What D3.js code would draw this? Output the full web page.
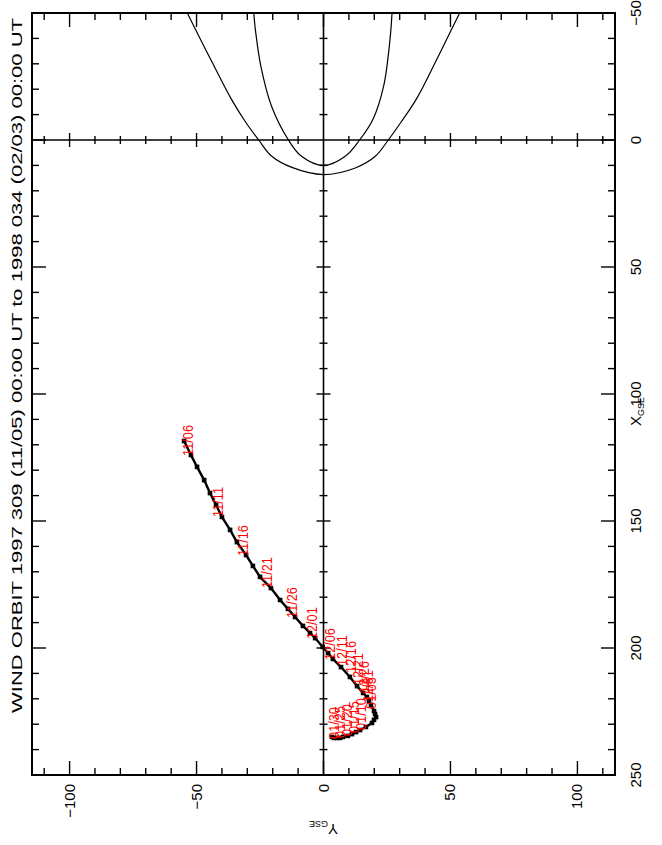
<!DOCTYPE html>
<html><head><meta charset="utf-8">
<script src="https://cdn.jsdelivr.net/npm/d3@7"></script>
<style>
html,body{margin:0;padding:0;background:#fff;}
svg{display:block;font-family:"Liberation Sans",Arial,sans-serif;}
</style></head>
<body>
<svg id="c" width="662" height="845"></svg>
<script>
// ---------- DATA ----------
const titleText = "WIND ORBIT 1997 309 (11/05) 00:00 UT to 1998 034 (02/03) 00:00 UT";
// GSE Y (horizontal) tick values and labels
const yTickVals = [-110,-100,-90,-80,-70,-60,-50,-40,-30,-20,-10,0,10,20,30,40,50,60,70,80,90,100,110];
const yLabelVals = [-100,-50,0,50,100];
// GSE X (vertical) tick values and labels
const xTickVals = [-40,-30,-20,-10,0,10,20,30,40,50,60,70,80,90,100,110,120,130,140,150,160,170,180,190,200,210,220,230,240];
const xLabelVals = [-50,0,50,100,150,200,250];

// Spacecraft trajectory: GSE X and GSE Y in Re
const trajX = [118.5,124.0,128.7,133.9,139.0,143.7,148.4,153.5,158.3,163.4,167.7,172.0,176.4,181.1,184.6,187.8,191.3,194.1,196.1,199.6,202.0,204.3,207.5,211.4,215.0,217.7,219.3,220.9,222.4,224.8,226.0,227.2,228.3,229.5,231.1,232.3,233.1,233.9,234.6,235.0,235.4,235.4,235.4,235.0];
const trajY = [-54.9,-52.2,-49.8,-47.0,-44.7,-42.3,-40.0,-36.8,-34.1,-30.5,-27.8,-25.0,-20.7,-17.1,-14.0,-11.2,-8.1,-5.3,-3.3,-0.3,1.8,3.7,6.9,10.4,13.2,15.6,17.1,17.9,18.7,19.9,20.3,20.7,19.9,19.1,16.7,14.4,12.8,11.2,9.6,7.7,6.5,5.3,4.1,3.3];

// Date labels every 5 days
const labelDates = ["11/06","11/11","11/16","11/21","11/26","12/01","12/06","12/11","12/16","12/21","12/26","12/31","01/05","01/10","01/15","01/20","01/25","01/30"];
const labelX = [124.0,148.0,163.4,176.0,187.8,196.1,204.3,206.7,209.4,214.2,217.3,220.9,223.6,231.9,233.1,234.3,235.0,235.4];
const labelY = [-52.2,-40.4,-30.5,-21.1,-11.2,-3.3,3.7,8.5,12.0,14.8,17.1,18.7,19.9,15.9,13.2,10.4,7.7,5.3];

// Bow shock (outer) and magnetopause (inner) boundaries
const bowX = [-50.3,-43.7,-30.5,-16.1,-6.8,0,6.3,10.9,13.6,11.0,6.3,0,-7.0,-16.0,-30.5,-43.7,-50.3];
const bowY = [-53.8,-50.5,-43.8,-36.3,-30.5,-25.5,-20.5,-12.2,0,12.5,20.5,25.5,30.5,36.5,44.0,50.5,53.8];
const mpX = [-50.3,-42.4,-29.2,-13.4,0,6.3,10.0,6.3,0,-8.2,-21.3,-39.7,-50.3];
const mpY = [-27.5,-26.7,-24.7,-20.5,-13.8,-8.8,0,8.7,14.2,19.5,23.7,26.2,27.0];

// ---------- DRAW ----------
const svg = d3.select("#c");
const L = 32, R = 615, T = 13, B = 775;
const sx = d3.scaleLinear().domain([-114.8, 114.8]).range([L, R]); // GSE Y -> screen x
const sy = d3.scaleLinear().domain([-50, 250]).range([T, B]);       // GSE X -> screen y

svg.append("rect").attr("width",662).attr("height",845).attr("fill","#fff");

svg.append("defs").append("clipPath").attr("id","clip")
  .append("rect").attr("x",L).attr("y",T).attr("width",R-L).attr("height",B-T);

const g = svg.append("g");
const isMajor = v => v % 50 === 0;

// central axes lines
g.append("line").attr("x1",L).attr("x2",R).attr("y1",sy(0)).attr("y2",sy(0)).attr("stroke","#000").attr("stroke-width",1.6);
g.append("line").attr("x1",sx(0)).attr("x2",sx(0)).attr("y1",T).attr("y2",B).attr("stroke","#000").attr("stroke-width",1.6);

// ticks on the horizontal (X=0) line, crossing
yTickVals.filter(v=>v!==0).forEach(v=>{
  const h = isMajor(v)?7:4;
  g.append("line").attr("x1",sx(v)).attr("x2",sx(v)).attr("y1",sy(0)-h).attr("y2",sy(0)+h).attr("stroke","#000").attr("stroke-width",1.4);
});
// ticks on the vertical (Y=0) line, crossing
xTickVals.filter(v=>v!==0).forEach(v=>{
  const h = isMajor(v)?7:4;
  g.append("line").attr("y1",sy(v)).attr("y2",sy(v)).attr("x1",sx(0)-h).attr("x2",sx(0)+h).attr("stroke","#000").attr("stroke-width",1.4);
});

// edge ticks
yTickVals.forEach(v=>{
  const h = isMajor(v)?14:7;
  g.append("line").attr("x1",sx(v)).attr("x2",sx(v)).attr("y1",T).attr("y2",T+h).attr("stroke","#000").attr("stroke-width",1.4);
  g.append("line").attr("x1",sx(v)).attr("x2",sx(v)).attr("y1",B).attr("y2",B-h).attr("stroke","#000").attr("stroke-width",1.4);
});
xTickVals.forEach(v=>{
  const h = isMajor(v)?14:7;
  g.append("line").attr("y1",sy(v)).attr("y2",sy(v)).attr("x1",L).attr("x2",L+h).attr("stroke","#000").attr("stroke-width",1.4);
  g.append("line").attr("y1",sy(v)).attr("y2",sy(v)).attr("x1",R).attr("x2",R-h).attr("stroke","#000").attr("stroke-width",1.4);
});

// box
g.append("rect").attr("x",L).attr("y",T).attr("width",R-L).attr("height",B-T)
  .attr("fill","none").attr("stroke","#000").attr("stroke-width",2);

// boundaries
const bline = d3.line().x(d=>sx(d[1])).y(d=>sy(d[0])).curve(d3.curveCatmullRom);
const clipG = svg.append("g").attr("clip-path","url(#clip)");
clipG.append("path").attr("d", bline(bowX.map((x,i)=>[x,bowY[i]]))).attr("fill","none").attr("stroke","#000").attr("stroke-width",1.2);
clipG.append("path").attr("d", bline(mpX.map((x,i)=>[x,mpY[i]]))).attr("fill","none").attr("stroke","#000").attr("stroke-width",1.2);

// trajectory
const traj = trajX.map((x,i)=>[x,trajY[i]]);
const tline = d3.line().x(d=>sx(d[1])).y(d=>sy(d[0]));
clipG.append("path").attr("d", tline(traj)).attr("fill","none").attr("stroke","#000").attr("stroke-width",2.4);
clipG.selectAll("rect.m").data(traj).enter().append("rect").attr("class","m")
  .attr("x",d=>sx(d[1])-2.3).attr("y",d=>sy(d[0])-2.3).attr("width",4.6).attr("height",4.6).attr("fill","#000");

// date labels
svg.selectAll("text.dl").data(labelDates).enter().append("text").attr("class","dl")
  .attr("transform",(d,i)=>`translate(${sx(labelY[i])+2},${sy(labelX[i])+1}) rotate(-90) scale(0.85,1)`)
  .attr("font-size",15).attr("fill","#ff0000").text(d=>d);

// bottom labels (GSE Y)
svg.selectAll("text.yl").data(yLabelVals).enter().append("text").attr("class","yl")
  .attr("transform",d=>`translate(${sx(d)+5},${B+9}) rotate(-90)`)
  .attr("text-anchor","end").attr("font-size",15).text(d=>d<0?"\u2212"+Math.abs(d):d);

// right labels (GSE X)
svg.selectAll("text.xl").data(xLabelVals).enter().append("text").attr("class","xl")
  .attr("transform",d=>`translate(${R+26},${sy(d)}) rotate(-90)`)
  .attr("text-anchor","middle").attr("font-size",15).text(d=>d<0?"\u2212"+Math.abs(d):d);

// axis titles
const xt = svg.append("text").attr("transform",`translate(${R+26},426) rotate(-90)`).attr("font-size",15);
xt.append("tspan").text("X");
xt.append("tspan").attr("font-size",9).attr("dy",3).text("GSE");
const yt = svg.append("text").attr("transform",`translate(338,824) rotate(180)`).attr("font-size",15);
yt.append("tspan").text("Y");
yt.append("tspan").attr("font-size",9).attr("dy",3).text("GSE");

// title
svg.append("text").attr("transform","translate(22,713) rotate(-90)")
  .attr("font-size",15).attr("textLength",695).attr("lengthAdjust","spacingAndGlyphs").text(titleText);
</script>
</body></html>
